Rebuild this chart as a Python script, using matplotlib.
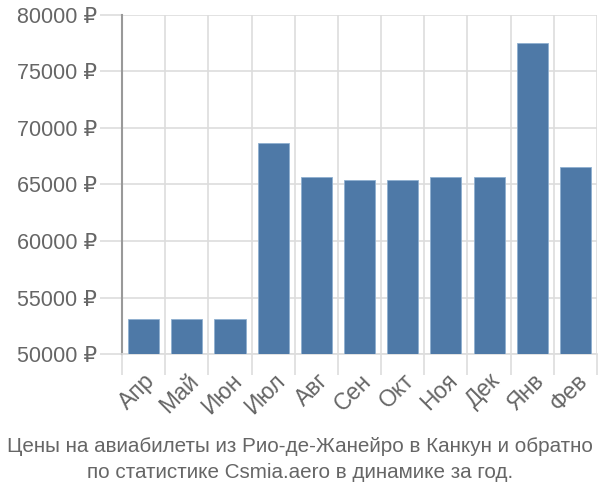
import numpy as np
import matplotlib
matplotlib.use("Agg")
import matplotlib.pyplot as plt
from matplotlib import font_manager

# Data
months = ["Апр", "Май", "Июн", "Июл", "Авг", "Сен", "Окт", "Ноя", "Дек", "Янв", "Фев"]
prices = [53060, 53060, 53060, 68680, 65620, 65440, 65440, 65620, 65620, 77500, 66590]
y_ticks = [50000, 55000, 60000, 65000, 70000, 75000, 80000]
title_lines = ["Цены на авиабилеты из Рио-де-Жанейро в Канкун и обратно",
               "по статистике Csmia.aero в динамике за год."]

plt.rcParams['font.family'] = ['Liberation Sans', 'DejaVu Sans']
text_color = '#666666'
grid_color = '#dddddd'

# narrow face for the caption if it is installed
names = {f.name for f in font_manager.fontManager.ttflist}
caption_family = ['Liberation Sans Narrow'] if 'Liberation Sans Narrow' in names else ['Liberation Sans']

fig = plt.figure(figsize=(6, 5), dpi=100)
ax = fig.add_axes([122 / 600, 1 - 354 / 500, 475 / 600, 339 / 500])

x = np.arange(len(months))
ax.bar(x, prices, width=0.72, color='#4e79a7', edgecolor='#8fb0d0', linewidth=0.6, zorder=3)

ax.set_xlim(-0.5, len(months) - 0.5)
ax.set_ylim(50000, 80000)

# y axis
ax.set_yticks(y_ticks)
ax.set_yticklabels([f"{v} ₽" for v in y_ticks])
ax.tick_params(axis='y', length=16, color=grid_color, width=1.2, pad=2,
               labelsize=15.5, labelcolor=text_color)

# x axis: labels at bar centres, ticks/grid at boundaries
ax.set_xticks(x)
ax.set_xticklabels(months, rotation=45, ha='right', rotation_mode='anchor')
ax.set_xticks(np.arange(len(months) + 1) - 0.5, minor=True)
ax.tick_params(axis='x', which='major', length=0, pad=11, labelsize=16.5, labelcolor=text_color)
ax.tick_params(axis='x', which='minor', length=15, color=grid_color, width=1.2)

ax.grid(True, axis='y', which='major', color=grid_color, linewidth=1.2, zorder=0)
ax.grid(True, axis='x', which='minor', color=grid_color, linewidth=1.2, zorder=0)

for side in ['top', 'right']:
    ax.spines[side].set_visible(False)
ax.spines['bottom'].set_color(grid_color)
ax.spines['bottom'].set_linewidth(1.2)
ax.spines['left'].set_color('#999999')
ax.spines['left'].set_linewidth(1.5)

fig.text(0.5, 1 - 447 / 500, title_lines[0], ha='center', va='center', fontsize=14.9,
         color=text_color, family=caption_family + ['DejaVu Sans'])
fig.text(0.5, 1 - 473 / 500, title_lines[1], ha='center', va='center', fontsize=14.9,
         color=text_color, family=caption_family + ['DejaVu Sans'])

fig.savefig("out.png", dpi=100)
